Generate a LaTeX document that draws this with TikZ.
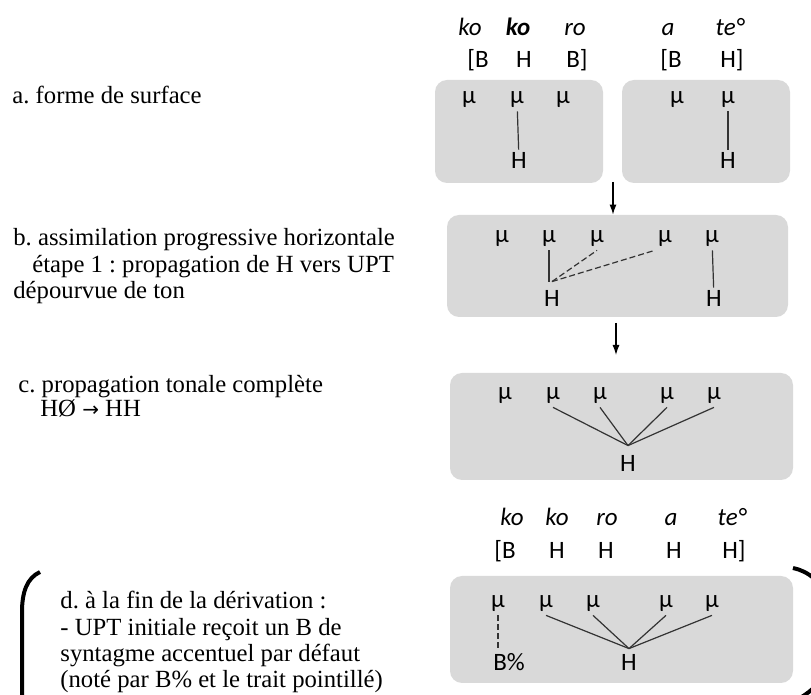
\documentclass[tikz,border=0pt]{standalone}
\usepackage{fontspec}
\setmainfont{Liberation Serif}
\newfontfamily\calibri{Carlito}
\newfontfamily\arrowfont{DejaVu Sans}
\usetikzlibrary{positioning,arrows.meta}
\definecolor{panelgray}{HTML}{D9D9D9}
\definecolor{linkgray}{HTML}{333333}
\frenchspacing

\begin{document}
\begin{tikzpicture}[x=0.5pt, y=-0.5pt,
    panel/.style={fill=panelgray, rounded corners=6pt, inner sep=0pt},
    mora/.style={font=\calibri\fontsize{12.5}{13}\selectfont, inner sep=1.5pt},
    high/.style={font=\calibri\fontsize{12.5}{13}\selectfont, inner sep=1pt},
    tone/.style={font=\calibri\fontsize{12.5}{13}\selectfont, inner sep=0pt, anchor=base},
    syl/.style={font=\calibri\itshape\fontsize{12.5}{13}\selectfont, inner sep=0pt, anchor=base},
    sylbold/.style={syl, font=\calibri\bfseries\itshape\fontsize{12.5}{13}\selectfont},
    stage/.style={font=\fontsize{12.35}{13.25}\selectfont, align=left, anchor=north west, inner sep=0pt},
    link/.style={draw=linkgray, line width=0.6pt},
    spread/.style={link, dash pattern=on 3pt off 1.5pt},
    arrow/.style={-{Latex[length=5pt,width=3.5pt]}, line width=0.6pt},
    brace/.style={line width=2pt}
]
    \useasboundingbox (0,0) rectangle (811,695);
    \clip (0,0) rectangle (811,695);

    % stage labels
    \node[stage] (la) at (12,86) {a. forme de surface};
    \node[stage] (lb) at (13,228) {b. assimilation progressive horizontale\\
        \hspace*{9.5pt}étape 1 : propagation de H vers UPT\\
        dépourvue de ton};
    \node[stage, font=\fontsize{12.35}{12.2}\selectfont] (lc) at (18,375) {c. propagation tonale complète\\
        \hspace*{11pt}HØ {\arrowfont\fontsize{10}{10}\selectfont →} HH};
    \node[stage, font=\fontsize{12.35}{13.15}\selectfont] (ld) at (60,591) {d. à la fin de la dérivation :\\
        - UPT initiale reçoit un B de\\
        syntagme accentuel par défaut\\
        (noté par B\% et le trait pointillé)};

    % panels
    \node[panel, minimum width=84pt, minimum height=51.5pt] (pa1) at (519,131.5) {};
    \node[panel, minimum width=84pt, minimum height=51.5pt] (pa2) at (706,131.5) {};
    \node[panel, minimum width=170.5pt, minimum height=51pt] (pb) at (617.5,266) {};
    \node[panel, minimum width=171.5pt, minimum height=53.5pt] (pc) at (621.5,426.5) {};
    \node[panel, minimum width=171.5pt, minimum height=53.5pt] (pd) at (621.5,629.5) {};

    % a. surface form
    \node[syl] (sa1) at (470,36) {ko};
    \node[sylbold] (sa2) at (518,36) {ko};
    \node[syl] (sa3) at (575,36) {ro};
    \node[syl] (sa4) at (668,36) {a};
    \node[syl] (sa5) at (730,36) {te°};
    \node[tone] (ta1) at (478,68) {[B};
    \node[tone] (ta2) at (524,68) {H};
    \node[tone] (ta3) at (577,68) {B]};
    \node[tone] (ta4) at (671,68) {[B};
    \node[tone] (ta5) at (732,68) {H]};
    \foreach \x [count=\i] in {469,517,563,677,728}
        \node[mora] (ma\i) at (\x,100) {μ};
    \node[high] (ha1) at (519,160) {H};
    \node[high] (ha2) at (728,160) {H};
    \draw[link] (ma2) -- (ha1);
    \draw[link] (ma5) -- (ha2);

    \coordinate (ab) at (613,182);
    \draw[arrow] (ab) -- (ab |- pb.north);

    % b. first step of spreading
    \foreach \x [count=\i] in {502,549,597,665,712}
        \node[mora] (mb\i) at (\x,239) {μ};
    \node[high] (hb1) at (552,298) {H};
    \node[high] (hb2) at (714,298) {H};
    \coordinate (fb) at ([yshift=3pt]hb1.north);
    \draw[link] (mb2.south) -- (mb2.south |- fb);
    \draw[spread] (fb) -- (mb3.south);
    \draw[spread] (fb) -- (mb4.south west);
    \draw[link] (mb5) -- (hb2);

    \coordinate (bc) at (616,323);
    \draw[arrow] (bc) -- ++(0,32);

    % c. full spreading
    \foreach \x [count=\i] in {505,553,600,667,714}
        \node[mora] (mc\i) at (\x,396) {μ};
    \node[high] (hc) at (628,463) {H};
    \coordinate (fc) at ([yshift=3.5pt]hc.north);
    \foreach \i in {2,...,5}
        \draw[link] (mc\i.south) -- (fc);

    % d. end of derivation
    \node[syl] (sd1) at (512,526) {ko};
    \node[syl] (sd2) at (557,526) {ko};
    \node[syl] (sd3) at (607,526) {ro};
    \node[syl] (sd4) at (671,526) {a};
    \node[syl] (sd5) at (732,526) {te°};
    \node[tone] (td1) at (505,559) {[B};
    \node[tone] (td2) at (557,559) {H};
    \node[tone] (td3) at (606,559) {H};
    \node[tone] (td4) at (674,559) {H};
    \node[tone] (td5) at (734,559) {H]};
    \foreach \x [count=\i] in {498,546,593,666,712}
        \node[mora] (md\i) at (\x,604) {μ};
    \node[high] (bp) at (509,662) {B\%};
    \node[high] (hd) at (629,662) {H};
    \coordinate (fd) at ([yshift=1.5pt]hd.north);
    \draw[link, dash pattern=on 3pt off 1.5pt] (md1.south) -- (md1.south |- bp.north);
    \foreach \i in {2,...,5}
        \draw[link] (md\i.south) -- (fd);

    % brackets round d.
    \draw[brace] (40,572) .. controls (27,578) and (22,592) .. (22,612) -- (22,700);
    \draw[brace] (793,568) .. controls (808,571) and (822,582) .. (828,600) -- (828,665) .. controls (824,680) and (812,691) .. (800,698);
\end{tikzpicture}
\end{document}
